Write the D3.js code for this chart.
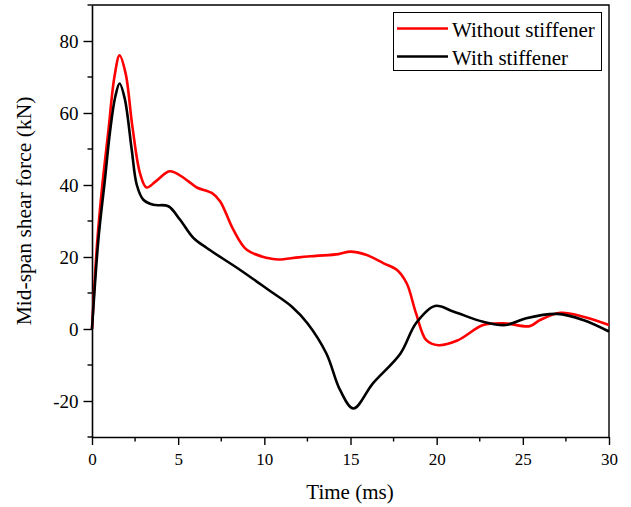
<!DOCTYPE html>
<meta charset="utf-8">
<head>
<style>
body { margin: 0; background: #fff; }
text { font-family: "Liberation Serif", "Times New Roman", serif; fill: #000; }
.line { fill: none; stroke-width: 2.6px; stroke-linejoin: round; }
</style>
</head>
<body>
<script src="https://d3js.org/d3.v7.min.js"></script>
<div id="chart"></div>
<script>

  // Without stiffener (red)
  var tRed = [0, 0.3, 0.6, 0.95, 1.3, 1.6, 1.95, 2.35, 2.8, 3.17, 3.7, 4.5, 5.1, 5.6, 6.08, 6.95, 7.43, 8.2, 8.98, 10.2, 10.8, 12, 13, 14.3, 15, 15.9, 16.9, 17.7, 18.26, 18.8, 19.4, 20.1, 21.2, 22.7, 23.9, 25.4, 26, 27.2, 28.5, 30];
  var vRed = [0, 24, 40, 55, 70, 76, 71, 56, 43, 39.3, 41, 43.8, 42.7, 41, 39.3, 37.8, 35.5, 27.6, 22, 19.7, 19.3, 19.9, 20.3, 20.8, 21.5, 20.6, 18.3, 16.4, 12.7, 4.4, -3.1, -4.5, -3.2, 1.1, 1.6, 0.8, 2.5, 4.5, 3.4, 1.1];

  // With stiffener (black)
  var tBlack = [0, 0.37, 0.75, 1.05, 1.35, 1.6, 1.9, 2.3, 2.6, 2.98, 3.56, 4.43, 5.1, 5.88, 6.66, 8.6, 10.23, 11.6, 12.5, 13.6, 14.4, 15.17, 16.3, 17.9, 18.8, 19.9, 21, 22.7, 24, 25.2, 27, 28.5, 30];
  var vBlack = [0, 24.8, 41.5, 55, 64.5, 68.2, 64, 50, 40, 35.9, 34.5, 34.1, 30.4, 25.3, 22.5, 16.4, 10.9, 6.2, 1.6, -6.8, -17, -22.1, -15.1, -6.8, 1.6, 6.4, 4.8, 2.0, 1.1, 3.0, 4.2, 2.5, -0.7];

  var xTicks = [0, 5, 10, 15, 20, 25, 30];
  var xMinor = [2.5, 7.5, 12.5, 17.5, 22.5, 27.5];
  var yTicks = [-20, 0, 20, 40, 60, 80];
  var yMinor = [-30, -10, 10, 30, 50, 70, 90];
  var legendNames = ["Without stiffener", "With stiffener"];
  var colors = ["#ff0000", "#000000"];

  var width = 631, height = 507;
  var mLeft = 92, mRight = 609, mTop = 5, mBottom = 437;

  var svg = d3.select('#chart').append('svg')
      .attr('width', width)
      .attr('height', height);

  var x = d3.scaleLinear().domain([0, 30]).range([mLeft, mRight]);
  var y = d3.scaleLinear().domain([-30, 90]).range([mBottom, mTop]);

  // plain hyphen for negatives, like the original
  var fmt = function(d) { return String(d); };

  // frame top & right
  svg.append('path')
      .attr('d', 'M' + mLeft + ',' + mTop + 'H' + mRight + 'V' + mBottom)
      .attr('fill', 'none').attr('stroke', '#000').attr('stroke-width', 1.4);

  var xAxis = svg.append('g')
      .attr('transform', 'translate(0,' + mBottom + ')')
      .call(d3.axisBottom(x).tickValues(xTicks).tickSize(8).tickPadding(8).tickSizeOuter(0).tickFormat(fmt));
  xAxis.append('g').selectAll('line').data(xMinor).enter().append('line')
      .attr('x1', x).attr('x2', x).attr('y1', 0).attr('y2', 4.5).attr('stroke', '#000').attr('stroke-width', 1.4);

  var yAxis = svg.append('g')
      .attr('transform', 'translate(' + mLeft + ',0)')
      .call(d3.axisLeft(y).tickValues(yTicks).tickSize(8.5).tickPadding(5).tickSizeOuter(0).tickFormat(fmt));
  yAxis.append('g').selectAll('line').data(yMinor).enter().append('line')
      .attr('y1', y).attr('y2', y).attr('x1', 0).attr('x2', -4.5).attr('stroke', '#000').attr('stroke-width', 1.4);

  svg.selectAll('.domain').attr('stroke-width', 1.6);
  svg.selectAll('.tick line').attr('stroke-width', 1.4);
  xAxis.attr('font-size', 17).attr('font-family', '"Liberation Serif", serif');
  yAxis.attr('font-size', 19).attr('font-family', '"Liberation Serif", serif');

  var line = d3.line()
      .x(function(d) { return x(d[0]); })
      .y(function(d) { return y(d[1]); })
      .curve(d3.curveCatmullRom.alpha(0.5));

  var series = [d3.zip(tRed, vRed), d3.zip(tBlack, vBlack)];

  svg.selectAll('path.line')
      .data(series)
      .enter().append('path')
      .attr('class', 'line')
      .attr('stroke', function(d, i) { return colors[i]; })
      .attr('d', line);

  // axis titles
  svg.append('text')
      .attr('x', 350).attr('y', 499)
      .attr('text-anchor', 'middle')
      .style('font-size', '21px')
      .text('Time (ms)');

  svg.append('text')
      .attr('transform', 'translate(31,211) rotate(-90)')
      .attr('text-anchor', 'middle')
      .style('font-size', '21.5px')
      .text('Mid-span shear force (kN)');

  // legend
  var lg = svg.append('g');
  lg.append('rect')
      .attr('x', 393.5).attr('y', 12.5).attr('width', 208).attr('height', 58)
      .attr('fill', '#fff').attr('stroke', '#000').attr('stroke-width', 1);
  legendNames.forEach(function(name, i) {
    var yy = 28.5 + i * 28;
    lg.append('line')
        .attr('x1', 397).attr('x2', 448).attr('y1', yy).attr('y2', yy)
        .attr('stroke', colors[i]).attr('stroke-width', 2.6);
    lg.append('text')
        .attr('x', 452).attr('y', yy + 8)
        .style('font-size', '21px')
        .text(name);
  });
</script>
</body>
